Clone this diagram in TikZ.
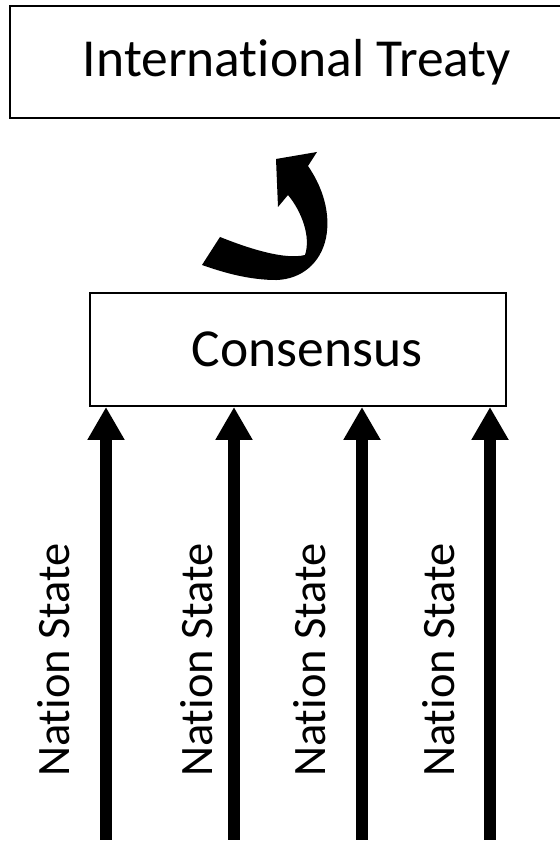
\documentclass[tikz,border=0pt]{standalone}
\usepackage{fontspec}
\setmainfont{Carlito}[Ligatures={NoCommon,NoContextual}]
\usetikzlibrary{arrows.meta}
\begin{document}
\begin{tikzpicture}[x=1pt,y=1pt,
	box/.style={draw,line width=2pt,inner sep=0pt,font=\fontsize{53.5}{64}\selectfont},
	push/.style={line width=12pt,-{Triangle[width=35pt,length=33pt]}},
	lbl/.style={rotate=90,font=\fontsize{46.5}{56}\selectfont}]
		\useasboundingbox (0,0) rectangle (559,842);
		%the two boxes
		\node[box,minimum width=560pt,minimum height=112pt] (treaty) at (290,780) {\hspace*{14pt}International Treaty};
		\node[box,minimum width=416pt,minimum height=113pt] (cons) at (298,492.5) {\hspace*{18pt}Consensus};
		
		%the states pushing up
		\foreach \i/\x in {1/106,2/234,3/362,4/490} {
			\coordinate (foot\i) at (\x,2);
			\draw[push] (foot\i) -- (foot\i |- cons.south);
		}
		\foreach \i/\x in {1/54,2/197,3/310,4/439}
			\node[lbl] (state\i) at (\x,182) {Nation State};
		
		%curved arrow up to the treaty
		\fill (202,577) -- (220,605) .. controls (250,593) and (285,582) .. (305,587)
			.. controls (311,605) and (302,630) .. (288,647) -- (278,635) -- (276,683)
			-- (317,690) -- (308,676) .. controls (326,650) and (331,622) .. (325,600)
			.. controls (318,575) and (297,561) .. (272,562)
			.. controls (245,563) and (222,570) .. (202,577) -- cycle;
	\end{tikzpicture}
\end{document}
